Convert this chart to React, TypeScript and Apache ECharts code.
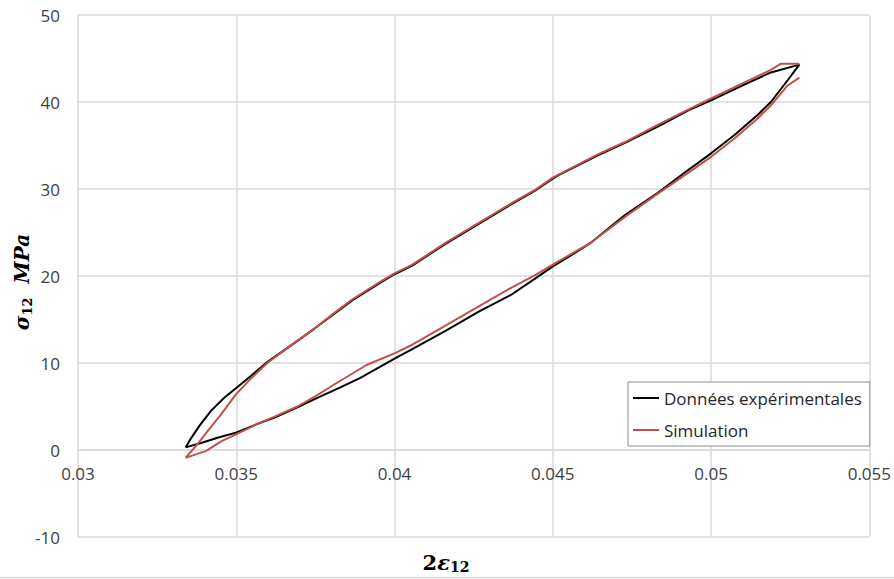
import React, { useEffect, useRef } from "react";
import * as echarts from "echarts";

// Experimental loop (strain 2ε12, stress σ12 MPa)
const expX = [
  0.0334, 0.03389, 0.03441, 0.03499, 0.03567, 0.03619, 0.03693, 0.03756, 0.03829, 0.03892,
  0.03951, 0.04, 0.04056, 0.04161, 0.04266, 0.04371, 0.04444, 0.045, 0.04581, 0.04623,
  0.04728, 0.04833, 0.04917, 0.05, 0.05074, 0.05147, 0.05189, 0.05242, 0.05279,
  0.05189, 0.05105, 0.05, 0.04937, 0.04833, 0.04728, 0.04644, 0.04518, 0.045, 0.04444,
  0.04371, 0.04266, 0.04161, 0.04056, 0.04, 0.03958, 0.03866, 0.03808, 0.03745, 0.03672,
  0.03598, 0.03546, 0.03499, 0.03462, 0.0342, 0.03384, 0.03358, 0.0334,
];
const expY = [
  0.3, 0.8, 1.4, 2.0, 3.0, 3.7, 4.9, 6.0, 7.2, 8.3,
  9.5, 10.5, 11.6, 13.7, 15.9, 17.9, 19.7, 21.1, 22.9, 23.9,
  27.0, 29.6, 31.9, 34.1, 36.2, 38.5, 40.0, 42.5, 44.3,
  43.4, 42.0, 40.2, 39.2, 37.2, 35.3, 33.9, 31.6, 31.2, 29.8,
  28.3, 26.0, 23.7, 21.2, 20.2, 19.3, 17.2, 15.6, 13.9, 12.0,
  10.1, 8.5, 7.1, 6.0, 4.5, 2.8, 1.4, 0.3,
];

// Simulation
const simX = [
  0.05279, 0.05221, 0.05189, 0.05126, 0.05, 0.04937, 0.04833, 0.04728, 0.04644, 0.045,
  0.04444, 0.04371, 0.04266, 0.04161, 0.04056, 0.04, 0.03958, 0.03866, 0.03808, 0.03745,
  0.03672, 0.03598, 0.03546, 0.03499, 0.03452, 0.0341, 0.03378, 0.0334,
  0.03405, 0.03452, 0.03499, 0.03567, 0.03619, 0.03693, 0.03756, 0.03808, 0.03913, 0.04,
  0.04056, 0.04161, 0.04266, 0.04371, 0.04444, 0.045, 0.04623, 0.04728, 0.04833, 0.04917,
  0.05, 0.05074, 0.05147, 0.05189, 0.05242, 0.05279,
];
const simY = [
  44.4, 44.4, 43.7, 42.6, 40.4, 39.3, 37.4, 35.4, 34.0, 31.3,
  29.9, 28.4, 26.1, 23.8, 21.3, 20.3, 19.4, 17.3, 15.7, 13.9,
  12.0, 10.0, 8.2, 6.4, 4.1, 2.2, 0.7, -0.9,
  -0.1, 1.0, 1.8, 3.0, 3.8, 5.0, 6.3, 7.5, 9.8, 11.1,
  12.1, 14.3, 16.5, 18.7, 20.1, 21.3, 23.9, 26.8, 29.5, 31.6,
  33.7, 35.8, 38.1, 39.6, 41.9, 42.8,
];

const seriesNames = ["Données expérimentales", "Simulation"];
const xTicks = { min: 0.03, max: 0.055, interval: 0.005 };
const yTicks = { min: -10, max: 50, interval: 10 };

const zip = (xs: number[], ys: number[]) => xs.map((x, i) => [x, ys[i]]);

export default function App() {
  const ref = useRef<HTMLDivElement>(null);
  useEffect(() => {
    if (!ref.current) return;
    const chart = echarts.init(ref.current, null, { renderer: "svg" });
    const gridColor = "#d9d9d9";
    const W = 894, H = 579;
    const grid = { left: 78, top: 15, right: 22, bottom: 42 };
    const plotH = H - grid.top - grid.bottom;
    // place the x axis on y = 0 (as in the spreadsheet original)
    const zeroOffset = -((0 - yTicks.min) / (yTicks.max - yTicks.min)) * plotH;
    const labelFont = { fontFamily: "Open Sans", fontSize: 17, color: "#404040" };
    chart.setOption({
      animation: false,
      backgroundColor: "#ffffff",
      grid: { ...grid, show: false },
      legend: {
        data: seriesNames,
        orient: "vertical",
        left: 628,
        top: 382,
        padding: [6, 8, 6, 5],
        itemGap: 12,
        itemWidth: 26,
        itemHeight: 2,
        icon: "rect",
        backgroundColor: "#ffffff",
        borderColor: "#8c8c8c",
        borderWidth: 1,
        textStyle: { fontFamily: "Open Sans", fontSize: 17, color: "#262626", lineHeight: 20 },
      },
      xAxis: {
        type: "value",
        min: xTicks.min,
        max: xTicks.max,
        interval: xTicks.interval,
        offset: zeroOffset,
        axisLine: { show: true, onZero: false, lineStyle: { color: gridColor, width: 1.5 } },
        axisTick: { show: false },
        axisLabel: {
          ...labelFont,
          margin: 15,
          formatter: (v: number) => String(+v.toFixed(4)),
        },
        splitLine: { show: true, lineStyle: { color: gridColor, width: 1.5 } },
      },
      yAxis: {
        type: "value",
        min: yTicks.min,
        max: yTicks.max,
        interval: yTicks.interval,
        axisLine: { show: false },
        axisTick: { show: false },
        axisLabel: { ...labelFont, margin: 18 },
        splitLine: { show: true, lineStyle: { color: gridColor, width: 1.5 } },
      },
      series: [
        {
          name: seriesNames[0],
          type: "line",
          data: zip(expX, expY),
          showSymbol: false,
          symbol: "none",
          lineStyle: { color: "#000000", width: 2 },
          itemStyle: { color: "#000000" },
        },
        {
          name: seriesNames[1],
          type: "line",
          data: zip(simX, simY),
          showSymbol: false,
          symbol: "none",
          lineStyle: { color: "#c0504d", width: 2 },
          itemStyle: { color: "#c0504d" },
        },
      ],
      graphic: [
        {
          type: "text",
          x: 22,
          y: 282,
          rotation: Math.PI / 2,
          style: {
            text: "{a|σ}{b|12}{a|  MPa}",
            align: "center",
            verticalAlign: "middle",
            rich: {
              a: { fontFamily: "DejaVu Serif", fontWeight: "bold", fontStyle: "italic", fontSize: 20, lineHeight: 24, fill: "#000" },
              b: { fontFamily: "DejaVu Serif", fontWeight: "bold", fontSize: 13, lineHeight: 14, verticalAlign: "bottom", fill: "#000" },
            },
          },
        },
        {
          type: "text",
          x: 446,
          y: 562,
          style: {
            text: "{n|2}{a|ε}{b|12}",
            align: "center",
            verticalAlign: "middle",
            rich: {
              n: { fontFamily: "DejaVu Serif", fontWeight: "bold", fontSize: 21, lineHeight: 24, fill: "#000" },
              a: { fontFamily: "DejaVu Serif", fontWeight: "bold", fontStyle: "italic", fontSize: 21, lineHeight: 24, fill: "#000" },
              b: { fontFamily: "DejaVu Serif", fontWeight: "bold", fontSize: 14, lineHeight: 14, verticalAlign: "bottom", fill: "#000" },
            },
          },
        },
        {
          type: "line",
          shape: { x1: 0, y1: W > 0 ? 577.5 : 0, x2: W, y2: 577.5 },
          style: { stroke: "#d9d9d9", lineWidth: 1.5 },
        },
      ],
    });
    return () => chart.dispose();
  }, []);
  return <div ref={ref} style={{ position: "absolute", left: 0, top: 0, width: 894, height: 579 }} />;
}
